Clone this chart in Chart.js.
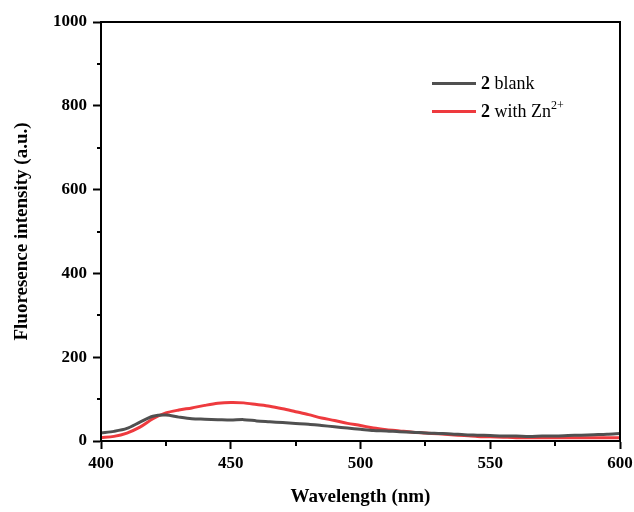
<!DOCTYPE html>
<html>
<head>
<meta charset="utf-8">
<script src="https://cdn.jsdelivr.net/npm/chart.js@4"></script>
<style>
  body { margin: 0; background: #fff; }
  #wrap { position: relative; width: 634px; height: 512px; }
  #legend { position: absolute; left: 432px; top: 71px; font-family: "Liberation Serif", serif; font-size: 18px; color: #000; }
  #legend .row { height: 28px; line-height: 24px; white-space: nowrap; }
  #legend .sw { display: inline-block; width: 44px; height: 3px; vertical-align: middle; margin-right: 5px; position: relative; top: -1px; }
  #legend sup { font-size: 12px; line-height: 0; vertical-align: baseline; position: relative; top: -8px; }
</style>
</head>
<body>
<div id="wrap">
  <canvas id="myChart" width="634" height="512"></canvas>
  <div id="legend"></div>
</div>
<script>
// wavelength (nm)
var wavelengths = [400, 405, 410, 415, 420, 425, 430, 435, 440, 445, 450, 455, 460, 465, 470, 475, 480, 485, 490, 495, 500,
                   505, 510, 515, 520, 525, 530, 535, 540, 545, 550, 555, 560, 565, 570, 575, 580, 585, 590, 595, 600];
// 2 blank
var blankValues = [19, 23, 30, 45, 59, 62, 57, 53, 52, 51, 50, 51, 48, 46, 44, 42, 40, 37, 34, 31, 28,
                   25, 24, 22, 21, 19, 18, 17, 15, 14, 13, 12, 12, 11, 12, 12, 13, 14, 15, 16, 18];
// 2 with Zn2+
var znValues = [8, 11, 19, 33, 53, 67, 74, 79, 85, 90, 92, 91, 87, 83, 77, 70, 63, 55, 49, 42, 37,
                31, 27, 24, 21, 19, 17, 15, 13, 11, 10, 9, 8, 8, 8, 8, 8, 8, 8, 8, 8];
var seriesLabels = ['<b>2</b> blank', '<b>2</b> with Zn<sup>2+</sup>'];
var seriesColors = ['#505050', '#ee3a3e'];
var xTicks = [400, 450, 500, 550, 600];
var xMinor = [425, 475, 525, 575];
var yTicks = [0, 200, 400, 600, 800, 1000];
var yMinor = [100, 300, 500, 700, 900];

function toPoints(vals) {
  return wavelengths.map(function (w, i) { return { x: w, y: vals[i] }; });
}

var tickFont = { family: 'Liberation Serif', size: 17, weight: 'bold' };
var titleFont = { family: 'Liberation Serif', size: 19, weight: 'bold' };

// box round the plot plus the small minor ticks
var frame = {
  id: 'frame',
  afterDraw: function (chart) {
    var c = chart.ctx, a = chart.chartArea;
    var xs = chart.scales.x, ys = chart.scales.y;
    c.save();
    c.strokeStyle = '#000';
    c.lineWidth = 2;
    c.strokeRect(a.left, a.top, a.right - a.left, a.bottom - a.top);
    c.beginPath();
    xMinor.forEach(function (v) {
      var px = Math.round(xs.getPixelForValue(v));
      c.moveTo(px, a.bottom); c.lineTo(px, a.bottom + 5);
    });
    yMinor.forEach(function (v) {
      var py = Math.round(ys.getPixelForValue(v));
      c.moveTo(a.left, py); c.lineTo(a.left - 4, py);
    });
    c.stroke();
    c.restore();
  }
};

var config = {
  type: 'line',
  data: {
    datasets: [{
      label: '2 blank',
      data: toPoints(blankValues),
      borderColor: seriesColors[0],
      borderWidth: 3,
      pointRadius: 0,
      tension: 0.3,
      fill: false
    }, {
      label: '2 with Zn2+',
      data: toPoints(znValues),
      borderColor: seriesColors[1],
      borderWidth: 3,
      pointRadius: 0,
      tension: 0.3,
      fill: false
    }]
  },
  options: {
    responsive: false,
    animation: false,
    devicePixelRatio: 1,
    layout: { padding: { top: 22, right: 14, left: 0, bottom: 0 } },
    plugins: {
      legend: { display: false },
      tooltip: { enabled: false }
    },
    scales: {
      x: {
        type: 'linear',
        min: 400,
        max: 600,
        afterBuildTicks: function (s) { s.ticks = xTicks.map(function (v) { return { value: v }; }); },
        ticks: { font: tickFont, color: '#000', padding: 4, maxRotation: 0, callback: function (v) { return String(v); } },
        grid: { drawOnChartArea: false, tickLength: 8, tickWidth: 2, tickColor: '#000' },
        border: { color: '#000', width: 2 },
        title: { display: true, text: 'Wavelength (nm)', font: titleFont, color: '#000', padding: { top: 12 } },
        afterFit: function (s) { s.height = 71; s.paddingLeft = 0; s.paddingRight = 0; }
      },
      y: {
        min: 0,
        max: 1000,
        afterBuildTicks: function (s) { s.ticks = yTicks.map(function (v) { return { value: v }; }); },
        ticks: { font: tickFont, color: '#000', padding: 6, callback: function (v) { return String(v); } },
        grid: { drawOnChartArea: false, tickLength: 8, tickWidth: 2, tickColor: '#000' },
        border: { color: '#000', width: 2 },
        title: { display: true, text: 'Fluoresence intensity (a.u.)', font: titleFont, color: '#000', padding: { top: 11, bottom: 0 } },
        afterFit: function (s) { s.width = 101; s.paddingTop = 0; s.paddingBottom = 0; }
      }
    }
  },
  plugins: [frame]
};

var ctx = document.getElementById('myChart').getContext('2d');
var chart = new Chart(ctx, config);

// legend with bold "2" and superscript charge
var legend = document.getElementById('legend');
chart.data.datasets.forEach(function (ds, i) {
  var row = document.createElement('div');
  row.className = 'row';
  row.innerHTML = '<span class="sw" style="background:' + ds.borderColor + '"></span>' + seriesLabels[i];
  legend.appendChild(row);
});
</script>
</body>
</html>
